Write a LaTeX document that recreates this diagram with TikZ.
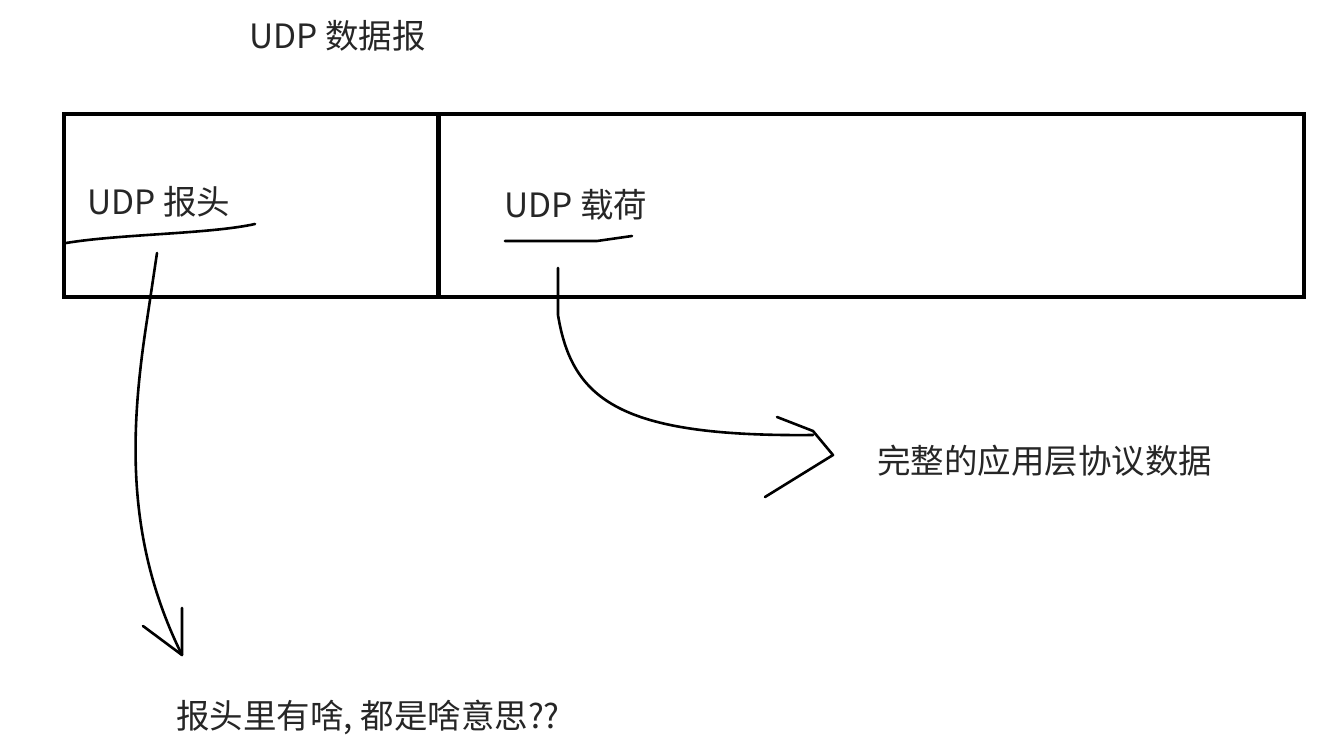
\documentclass[tikz,border=0pt]{standalone}
\usepackage{fontspec}
\setmainfont{Noto Sans CJK SC}
\begin{document}
\begin{tikzpicture}[x=1pt,y=-1pt,
  lbl/.style={inner sep=0pt, anchor=west, text=black!85, font=\fontsize{33.5}{38}\selectfont},
  box/.style={draw=black, line width=4pt},
  ink/.style={draw=black, line width=2.6pt, line cap=round, line join=round}]
\useasboundingbox (0,0) rectangle (1318,739);
\fill[white] (0,0) rectangle (1318,739);
% datagram box
\node[box, minimum width=375pt, minimum height=183pt, anchor=north west, inner sep=0pt] (hdr) at (62,112) {};
\node[box, minimum width=866pt, minimum height=183pt, anchor=north west, inner sep=0pt] (pay) at (436,112) {};
% labels
\node[lbl] (title) at (249,36) {UDP 数据报};
\node[lbl] (hlbl) at (87,202) {UDP 报头};
\node[lbl] (plbl) at (504,205) {UDP 载荷};
\node[lbl] (pdesc) at (877,461) {完整的应用层协议数据};
\node[lbl] (hdesc) at (176,717) {报头里有啥, 都是啥意思??};
% underlines
\coordinate (u1a) at (66,243);
\coordinate (u1b) at (255,224);
\draw[ink] (u1a) .. controls (120,234) and (210,234) .. (u1b);
\coordinate (u2a) at (505,241);
\coordinate (u2b) at (632,236);
\draw[ink] (u2a) -- (597,241) -- (u2b);
% arrow from header
\coordinate (a1s) at (157,253);
\coordinate (a1t) at (182,655);
\draw[ink] (a1s) -- (147,320) .. controls (130,430) and (125,540) .. (a1t);
\draw[ink] (182,608) -- (a1t) -- (143,626);
% arrow from payload
\coordinate (a2s) at (558,268);
\coordinate (a2e) at (813,435);
\draw[ink] (a2s) -- (558,315) .. controls (572,400) and (620,437) .. (a2e);
\draw[ink] (777,417) -- (813,431) -- (833,455) -- (765,497);
\end{tikzpicture}
\end{document}
